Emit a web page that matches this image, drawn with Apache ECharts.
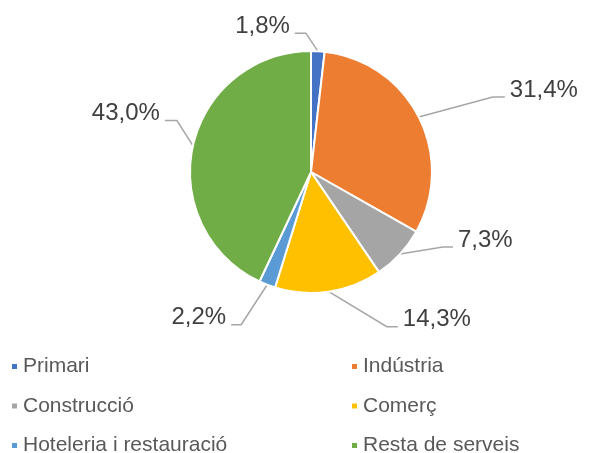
<!DOCTYPE html>
<html>
<head>
<meta charset="utf-8">
<script src="https://cdn.jsdelivr.net/npm/echarts@6/dist/echarts.min.js"></script>
<style>
  html, body { margin: 0; padding: 0; background: #fff; }
  #main { width: 592px; height: 453px; }
</style>
</head>
<body>
<div id="main"></div>
<script>
// sectors and shares (%)
const sectors = ['Primari', 'Indústria', 'Construcció', 'Comerç', 'Hoteleria i restauració', 'Resta de serveis']
const shares = [1.8, 31.4, 7.3, 14.3, 2.2, 43.0]
const colors = ['#4472C4', '#ED7D31', '#A5A5A5', '#FFC000', '#5B9BD5', '#70AD47']

const leftLegend = [sectors[0], sectors[2], sectors[4]]
const rightLegend = [sectors[1], sectors[3], sectors[5]]

const font = 'Liberation Sans, Arial, sans-serif'

// leader line shape, excel style: elbow offset from the slice edge + short horizontal run
const leaders = [
  { ex: -12, ey: -18, run: -11 },
  { ex: 74, ey: -20, run: 12 },
  { ex: 43, ey: -7, run: 10 },
  { ex: 58, ey: 35, run: 11 },
  { ex: -26, ey: 40, run: -10 },
  { ex: -16, ey: -25, run: -12 }
]

const legendBase = {
  orient: 'vertical',
  top: 356,
  height: 100,
  padding: 0,
  icon: 'rect',
  itemWidth: 7,
  itemHeight: 7,
  itemGap: 18.5,
  textStyle: { color: '#595959', fontSize: 21, fontFamily: font, lineHeight: 20 }
}

const chart = echarts.init(document.getElementById('main'))
chart.setOption({
  animation: false,
  color: colors,
  legend: [
    Object.assign({ left: 10, data: leftLegend }, legendBase),
    Object.assign({ left: 350, data: rightLegend }, legendBase)
  ],
  series: [
    {
      type: 'pie',
      center: [311, 172],
      radius: 121,
      startAngle: 90,
      clockwise: true,
      avoidLabelOverlap: false,
      itemStyle: { borderColor: '#fff', borderWidth: 2 },
      label: {
        show: true,
        position: 'outside',
        color: '#404040',
        fontSize: 24,
        fontFamily: font,
        formatter: p => p.value.toFixed(1).replace('.', ',') + '%'
      },
      labelLine: {
        show: true,
        lineStyle: { color: '#A6A6A6', width: 1.5 }
      },
      labelLayout: params => {
        const l = leaders[params.dataIndex]
        const a = params.labelLinePoints[0]
        const elbow = [a[0] + l.ex, a[1] + l.ey]
        const end = [elbow[0] + l.run, elbow[1]]
        const right = l.run > 0
        return {
          x: end[0] + (right ? 5 : -5),
          y: end[1] - 7,
          align: right ? 'left' : 'right',
          verticalAlign: 'middle',
          labelLinePoints: [a, elbow, end]
        }
      },
      data: sectors.map((name, i) => ({ name: name, value: shares[i] }))
    }
  ]
})
</script>
</body>
</html>
